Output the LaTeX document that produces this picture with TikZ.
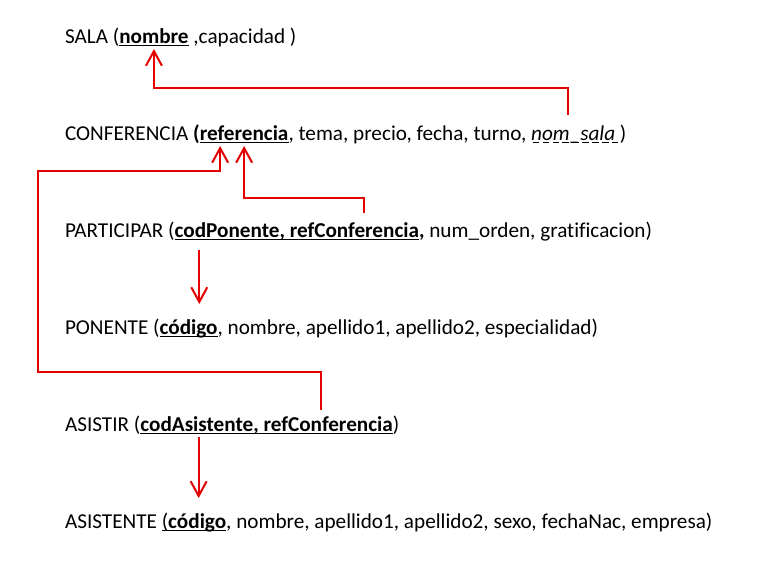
\documentclass[tikz,border=0pt]{standalone}
\usepackage{fontspec}
\setmainfont{Carlito}[Ligatures=NoCommon]
\usetikzlibrary{arrows.meta}
\definecolor{fkRed}{RGB}{228, 0, 0}
% underlined keys, dashed for the foreign key
\newcommand{\keyline}[1]{\setbox0\hbox{#1}\rlap{\rule[-2pt]{\wd0}{0.8pt}}\box0}
\newcommand{\fkline}[1]{\setbox0\hbox{#1}\rlap{\hbox to \wd0{\xleaders\hbox{\hskip1.2pt\rule[-2pt]{5pt}{0.8pt}\hskip1.2pt}\hfill}}\box0}

\tikzset{
  txt/.style={inner sep=0pt, outer sep=0pt, anchor=base west, font=\fontsize{15.9}{19}\selectfont},
  fk/.style={draw=fkRed, line width=1.5pt, -{Straight Barb[length=11pt, width=12pt]}},
}

\begin{document}
\begin{tikzpicture}[x=0.75pt, y=-0.75pt]
\useasboundingbox (0,0) rectangle (761,578);
% Relations
\node[txt] (salaName) at (65,43) {SALA (};
\node[txt] (salaKey) at (salaName.base east) {\keyline{\textbf{nombre}}};
\node[txt] (salaRest) at (salaKey.base east) {\ ,capacidad )};

\node[txt] (confName) at (65,140) {CONFERENCIA \textbf{(}};
\node[txt] (confKey) at (confName.base east) {\keyline{\textbf{referencia}}};
\node[txt] (confMid) at (confKey.base east) {, tema, precio, fecha, turno,\ \null};
\node[txt] (confFk) at (confMid.base east) {\fkline{\textit{nom\_sala\ }}};
\node[txt] (confEnd) at (confFk.base east) {)};

\node[txt] (partName) at (65,237) {PARTICIPAR (};
\node[txt] (partKey) at (partName.base east) {\keyline{\textbf{codPonente, refConferencia}}};
\node[txt] (partRest) at (partKey.base east) {\textbf{,} num\_orden, gratificacion)};

\node[txt] (ponName) at (65,334) {PONENTE (};
\node[txt] (ponKey) at (ponName.base east) {\keyline{\textbf{código}}};
\node[txt] (ponRest) at (ponKey.base east) {, nombre, apellido1, apellido2, especialidad)};

\node[txt] (asisName) at (65,431) {ASISTIR (};
\node[txt] (asisKey) at (asisName.base east) {\keyline{\textbf{codAsistente, refConferencia}}};
\node[txt] (asisRest) at (asisKey.base east) {)};

\node[txt] (asteName) at (65,528) {ASISTENTE\ \null};
\node[txt] (asteKey) at (asteName.base east) {\keyline{(\textbf{código}}};
\node[txt] (asteRest) at (asteKey.base east) {, nombre, apellido1, apellido2, sexo, fechaNac, empresa)};

% Foreign keys
\draw[fk] ([xshift=-6pt,yshift=19pt]confFk.base) |- ([yshift=-34pt]salaKey.base) -- ([yshift=-4.5pt]salaKey.base);
\draw[fk] ([xshift=-41pt,yshift=18pt]partKey.base east) |- ([yshift=-43.5pt]confKey.base) -- ([yshift=-4.5pt]confKey.base);
\draw[fk] ([xshift=-54pt,yshift=16pt]asisKey.base east) |- ([xshift=-20pt,yshift=44pt]asisName.base west)
  |- ([xshift=-18pt,yshift=-23pt]confKey.base) -- ([xshift=-18pt,yshift=-4.5pt]confKey.base);
\draw[fk] ([xshift=8pt,yshift=-10pt]partKey.base -| ponKey.base) -- ([xshift=8pt,yshift=22.5pt]ponKey.base);
\draw[fk] ([xshift=3.5pt,yshift=-4.5pt]asisKey.base -| asteKey.base) -- ([xshift=3.5pt,yshift=22.5pt]asteKey.base);
\end{tikzpicture}
\end{document}
